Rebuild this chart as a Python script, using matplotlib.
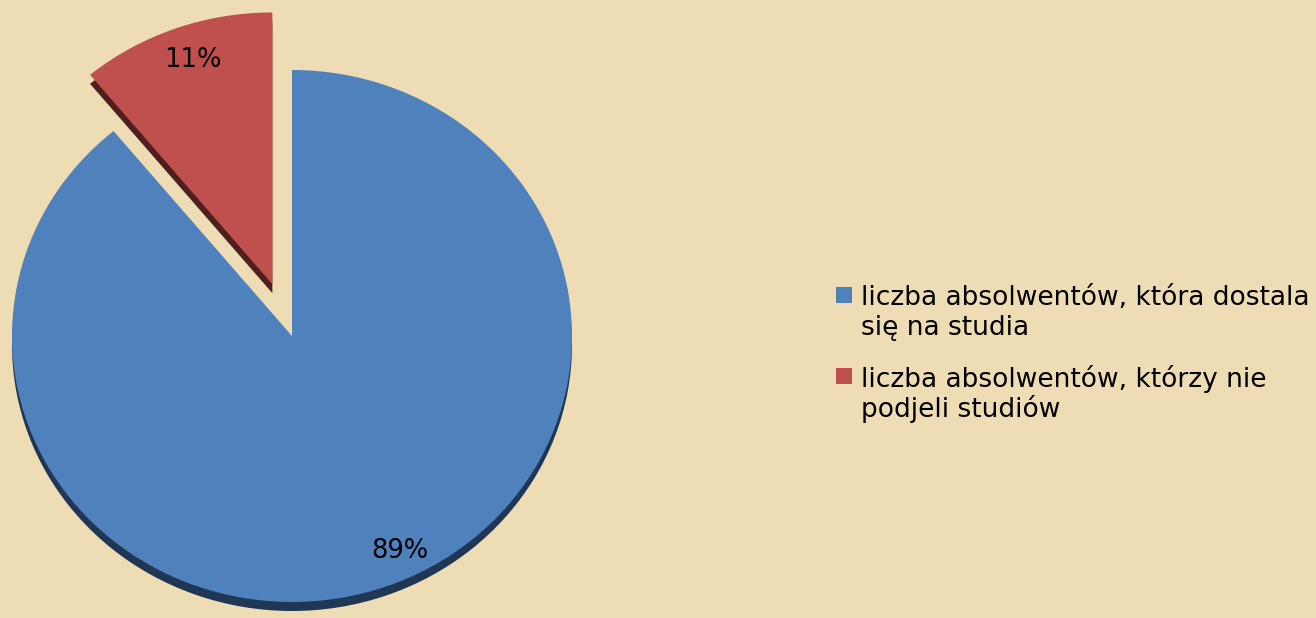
import matplotlib
matplotlib.use("Agg")
import matplotlib.pyplot as plt
from matplotlib.patches import Rectangle

categories = ["liczba absolwentów, która dostala\nsię na studia",
              "liczba absolwentów, którzy nie\npodjeli studiów"]
values = [89, 11]
pct_labels = ["89%", "11%"]
colors = ["#4f81bd", "#c0504d"]
dark_colors = ["#1f3654", "#4f1e1e"]

W, H = 1316, 618
ysq = 0.95  # vertical squash of the tilted pie
fig = plt.figure(figsize=(W / 100, H / 100), dpi=100)
fig.patch.set_facecolor("#eedcb4")
ax = fig.add_axes([0, 0, 1, 1])
ax.set_facecolor("#eedcb4")

cx, cy = 292, (H - 336) / ysq
R = 280
explode = [0, 58]  # data units

# depth (side) of the pie
shadow, _ = ax.pie(values, colors=dark_colors, startangle=90, counterclock=False,
                   explode=explode, radius=R, center=(cx, cy - 9 / ysq),
                   wedgeprops=dict(linewidth=0))
wedges, _ = ax.pie(values, colors=colors, startangle=90, counterclock=False,
                   explode=explode, radius=R, center=(cx, cy),
                   wedgeprops=dict(linewidth=0))
# the tilt makes the exploded slice look a little larger
for w in (shadow[1], wedges[1]):
    w.set_radius(286)

ax.set_aspect("auto")
ax.set_xlim(0, W)
ax.set_ylim(0, H / ysq)
ax.axis("off")

# percentage labels
ax.text(400, (H - 551) / ysq, pct_labels[0], fontsize=18.5, ha="center", va="center",
        color="black", family="DejaVu Sans")
ax.text(193, (H - 60) / ysq, pct_labels[1], fontsize=18.5, ha="center", va="center",
        color="black", family="DejaVu Sans")

# legend (entries drawn manually so the marker sits at the first text line)
for i, (label, color) in enumerate(zip(categories, colors)):
    top = 287 + i * 81
    ax.add_patch(Rectangle((836, (H - top - 16) / ysq), 16, 16 / ysq, facecolor=color,
                           edgecolor="none"))
    for j, line in enumerate(label.split("\n")):
        base = 305 + i * 82 + j * 30
        ax.text(861, (H - base) / ysq, line, fontsize=19, ha="left", va="baseline",
                color="black", family="DejaVu Sans")

fig.savefig("out.png", dpi=100, facecolor=fig.get_facecolor())
